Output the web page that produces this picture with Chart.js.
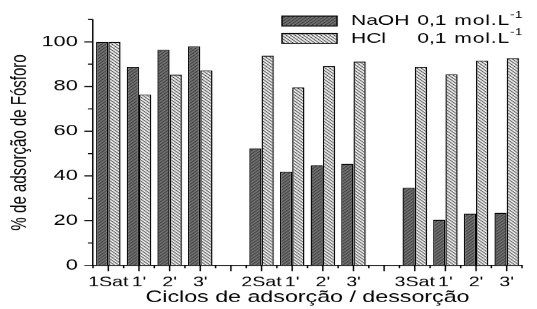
<!DOCTYPE html>
<html>
<head>
<meta charset="utf-8">
<script src="https://cdn.jsdelivr.net/npm/chart.js@4/dist/chart.umd.min.js"></script>
<style>
  html, body { margin: 0; padding: 0; background: #fff; overflow: hidden; }
  #wrap { width: 370px; height: 309px; }
  /* the original figure is stretched horizontally */
  #adsChart { transform: scaleX(1.4514); transform-origin: 0 0; }
</style>
</head>
<body>
<div id="wrap"><canvas id="adsChart" width="370" height="309"></canvas></div>
<script>
// Data
const categories = ['1Sat', "1'", "2'", "3'", '', '2Sat', "1'", "2'", "3'", '', '3Sat', "1'", "2'", "3'"];
const naohValues = [100, 88.8, 96.4, 98, null, 52.3, 41.9, 44.8, 45.4, null, 34.7, 20.4, 23.2, 23.5];
const hclValues = [100, 76.4, 85.3, 87.2, null, 93.9, 79.7, 89.2, 91.2, null, 88.8, 85.5, 91.6, 92.7];
const seriesNames = ['NaOH', 'HCl'];
const concText = ['0,1', 'mol.L', '-1'];

const FONT = "'Liberation Sans', Arial, sans-serif";
const STRETCH = 537 / 370;

/**
 * Builds a hatch pattern (diagonal lines) for a bar fill.
 * @param {string} bg - background colour
 * @param {string} fg - line colour
 * @param {boolean} rising - true for '/', false for '\'
 */
function makeHatch(bg, fg, rising) {
    const size = 3;
    const tile = document.createElement('canvas');
    tile.width = size;
    tile.height = size;
    const t = tile.getContext('2d');
    t.fillStyle = bg;
    t.fillRect(0, 0, size, size);
    t.strokeStyle = fg;
    t.lineWidth = 0.9;
    t.beginPath();
    if (rising) {
        t.moveTo(-1, size + 1); t.lineTo(size + 1, -1);
        t.moveTo(-1, 1); t.lineTo(1, -1);
        t.moveTo(size - 1, size + 1); t.lineTo(size + 1, size - 1);
    } else {
        t.moveTo(-1, -1); t.lineTo(size + 1, size + 1);
        t.moveTo(size - 1, -1); t.lineTo(size + 1, 1);
        t.moveTo(-1, size - 1); t.lineTo(1, size + 1);
    }
    t.stroke();
    return document.getElementById('adsChart').getContext('2d').createPattern(tile, 'repeat');
}

const naohFill = makeHatch('#7a7a7a', '#222', true);
const hclFill = makeHatch('#ffffff', '#111', false);

// major ticks on categories, minor ticks between them and on the y axis
const axisTicks = {
    id: 'axisTicks',
    afterDraw(chart) {
        const { ctx, chartArea, scales: { x, y } } = chart;
        ctx.save();
        ctx.strokeStyle = '#000';
        ctx.lineWidth = 1;
        ctx.beginPath();
        for (let v = 0; v <= 110; v += 10) {
            const py = y.getPixelForValue(v);
            const len = v % 20 === 0 ? 6 : 3.5;
            ctx.moveTo(chartArea.left - len, py);
            ctx.lineTo(chartArea.left, py);
        }
        for (let i = 0; i < categories.length; i++) {
            const px = x.getPixelForValue(i);
            ctx.moveTo(px, chartArea.bottom);
            ctx.lineTo(px, chartArea.bottom + 6);
        }
        for (let i = 0; i <= categories.length; i++) {
            const px = x.getPixelForValue(i - 0.5);
            ctx.moveTo(px, chartArea.bottom);
            ctx.lineTo(px, chartArea.bottom + 3);
        }
        ctx.stroke();
        ctx.restore();
    }
};

// legend in the top right corner
const hatchLegend = {
    id: 'hatchLegend',
    afterDraw(chart) {
        const ctx = chart.ctx;
        const fills = [naohFill, hclFill];
        const rows = [21, 38.5];
        ctx.save();
        for (let i = 0; i < 2; i++) {
            const cy = rows[i];
            ctx.fillStyle = fills[i];
            ctx.fillRect(194.3, cy - 5, 37.9, 10);
            ctx.strokeStyle = '#000';
            ctx.lineWidth = 1;
            ctx.strokeRect(194.3, cy - 5, 37.9, 10);

            ctx.fillStyle = '#000';
            ctx.textBaseline = 'middle';
            ctx.textAlign = 'left';
            ctx.font = `14.5px ${FONT}`;
            ctx.letterSpacing = '0px';
            ctx.fillText(seriesNames[i], 241.8, cy);
            ctx.fillText(concText[0], 287.5, cy);
            ctx.letterSpacing = '0.6px';
            ctx.fillText(concText[1], 313, cy);
            const w = ctx.measureText(concText[1]).width;
            ctx.letterSpacing = '0px';
            ctx.font = `9.5px ${FONT}`;
            ctx.fillText(concText[2], 313 + w, cy - 6);
        }
        ctx.restore();
    }
};

new Chart(document.getElementById('adsChart'), {
    type: 'bar',
    data: {
        labels: categories,
        datasets: [{
            label: 'NaOH 0,1 mol.L-1',
            data: naohValues,
            backgroundColor: naohFill,
            borderColor: '#000',
            borderWidth: 1,
            categoryPercentage: 0.8,
            barPercentage: 1.0
        }, {
            label: 'HCl 0,1 mol.L-1',
            data: hclValues,
            backgroundColor: hclFill,
            borderColor: '#000',
            borderWidth: 1,
            categoryPercentage: 0.8,
            barPercentage: 1.0
        }]
    },
    options: {
        responsive: false,
        devicePixelRatio: STRETCH,
        animation: false,
        layout: { padding: { top: 14, right: 10.35, left: 0, bottom: 0 } },
        plugins: {
            legend: { display: false },
            tooltip: { enabled: false }
        },
        scales: {
            x: {
                offset: true,
                grid: { display: false, drawTicks: false },
                border: { display: true, color: '#000', width: 1 },
                ticks: {
                    color: '#000',
                    font: { family: FONT, size: 13.5 },
                    padding: 9,
                    maxRotation: 0,
                    autoSkip: false
                },
                title: {
                    display: true,
                    text: 'Ciclos de adsorção / dessorção',
                    color: '#000',
                    font: { family: FONT, size: 16 },
                    padding: { top: 0, bottom: 2 }
                },
                afterFit: s => { s.height = 44; }
            },
            y: {
                min: 0,
                max: 110,
                grid: { display: false, drawTicks: false },
                border: { display: true, color: '#000', width: 1 },
                ticks: {
                    stepSize: 20,
                    includeBounds: false,
                    color: '#000',
                    font: { family: FONT, size: 15 },
                    padding: 10.5
                },
                title: {
                    display: true,
                    text: '% de adsorção de Fósforo',
                    color: '#000',
                    font: { family: FONT, size: 15 },
                    padding: { top: 5, bottom: 0 }
                },
                afterFit: s => { s.width = 64.07; }
            }
        }
    },
    plugins: [axisTicks, hatchLegend]
});
</script>
</body>
</html>
